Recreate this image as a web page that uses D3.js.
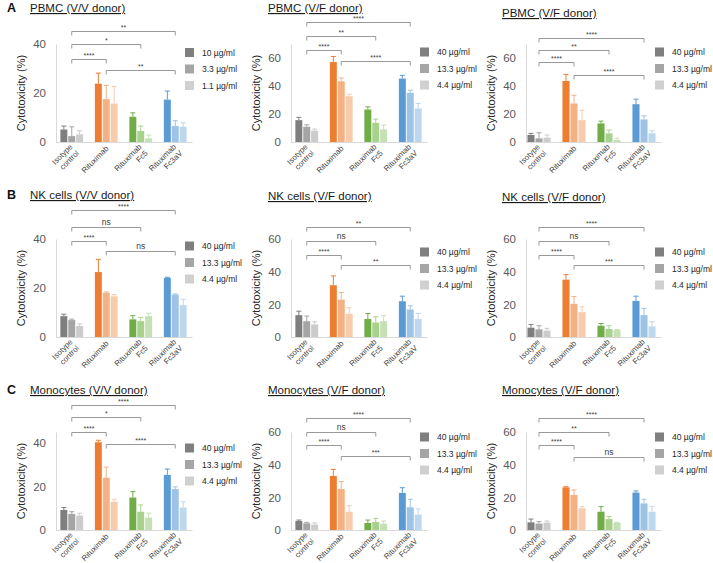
<!DOCTYPE html>
<html><head><meta charset="utf-8">
<script src="https://cdn.jsdelivr.net/npm/d3@7"></script>
<style>
body{margin:0;background:#fff}
svg{display:block;font-family:Arial,"Liberation Sans",sans-serif}
</style>
</head><body><svg id="c" width="713" height="563"></svg>
<script>
// ---------- DATA ----------
const groupLabels = [["Isotype","control"],["Rituximab"],["Rituximab","Fc5"],["Rituximab","Fc3aV"]];
const panelTitles = ["PBMC (V/V donor)","PBMC (V/F donor)","PBMC (V/F donor)",
  "NK cells (V/V donor)","NK cells (V/F donor)","NK cells (V/F donor)",
  "Monocytes (V/V donor)","Monocytes (V/F donor)","Monocytes (V/F donor)"];
const panelLetters = ["A","","","B","","","C","",""];
const legendLabelsLow = ["10 µg/ml","3.3 µg/ml","1.1 µg/ml"];
const legendLabelsHigh = ["40 µg/ml","13.3 µg/ml","4.4 µg/ml"];
const yMaxes = [40,70,70,40,60,60,45,60,60];
const yTickValues = [[0,20,40],[0,20,40,60],[0,20,40,60],[0,20,40],[0,20,40,60],[0,20,40,60],[0,20,40],[0,20,40,60],[0,20,40,60]];
const bracketPairs = [[0,3],[0,2],[0,1],[1,3]];

// values: [group][concentration]  groups: Isotype, Rituximab, Rituximab Fc5, Rituximab Fc3aV
const pbmcVV      = [[5.1,2.4,3.1],[23.8,17.5,15.7],[10.3,4.5,1.5],[17.3,6.5,6.2]];
const pbmcVVErr   = [[1.4,3.8,1.5],[4.3,5.6,7.0],[1.6,2.0,1.3],[3.5,2.2,1.6]];
const pbmcVF1     = [[15.6,10.9,8.1],[57.1,43.4,32.7],[23.2,13.7,9.0],[45.3,35.1,23.9]];
const pbmcVF1Err  = [[2.0,1.4,1.1],[4.0,2.3,1.4],[1.9,2.7,3.1],[2.3,1.9,3.6]];
const pbmcVF2     = [[5.0,2.6,3.1],[43.6,27.5,15.6],[13.3,6.2,1.4],[27.0,16.1,6.2]];
const pbmcVF2Err  = [[1.2,4.0,1.9],[4.7,5.9,7.1],[1.6,2.3,1.4],[3.6,2.6,1.8]];
const nkVV        = [[8.5,6.9,4.5],[26.5,18.0,16.6],[7.2,6.5,8.5],[24.1,17.3,13.0]];
const nkVVErr     = [[0.8,0.4,0.8],[5.2,0.4,0.7],[1.5,1.5,1.2],[0.3,0.3,2.4]];
const nkVF1       = [[13.4,9.7,7.7],[31.7,22.9,14.2],[11.0,8.9,9.7],[21.9,16.9,11.0]];
const nkVF1Err    = [[2.4,3.1,1.6],[5.7,4.3,3.7],[3.4,3.5,3.3],[3.1,2.2,3.4]];
const nkVF2       = [[5.7,4.7,3.9],[35.1,20.3,15.2],[6.9,4.9,4.3],[22.1,13.4,6.5]];
const nkVF2Err    = [[2.0,2.2,1.4],[3.1,4.5,3.3],[1.4,2.0,0.4],[2.9,4.1,2.8]];
const monoVV      = [[9.2,7.4,6.6],[40.3,24.0,13.0],[14.9,8.4,5.7],[25.3,18.8,10.3]];
const monoVVErr   = [[1.1,1.0,1.1],[0.9,4.9,1.1],[2.7,3.1,2.0],[2.7,1.0,2.7]];
const monoVF1     = [[5.5,4.1,3.3],[33.1,25.1,11.2],[4.3,4.9,3.9],[22.7,13.9,9.4]];
const monoVF1Err  = [[0.6,0.6,1.0],[4.0,4.5,3.7],[1.8,2.2,1.6],[3.2,4.9,3.5]];
const monoVF2     = [[4.7,3.9,4.5],[26.1,21.4,13.3],[11.2,6.7,4.3],[22.9,16.3,11.2]];
const monoVF2Err  = [[2.0,1.2,1.0],[0.4,3.1,1.0],[3.1,1.5,0.4],[1.0,2.5,3.1]];

// significance brackets (level in data units), order matches bracketPairs
const bracketLevels = [[45.2,40.0,34.0,29.5],[85.5,75.6,65.9,57.6],[74.2,65.9,57.1,47.6],
  [52.0,44.8,39.0,34.9],[67.2,58.5,50.0,43.9],[67.2,58.5,50.0,43.9],
  [57.4,52.1,45.2,39.4],[68.4,60.2,52.0,45.3],[68.4,60.2,52.0,44.9]];
const bracketLabels = [["**","*","****","**"],["****","**","****","****"],["****","**","****","****"],
  ["****","ns","****","ns"],["**","ns","****","**"],["****","ns","****","***"],
  ["****","*","****","****"],["****","ns","****","***"],["****","**","****","ns"]];

const panelValues = [pbmcVV,pbmcVF1,pbmcVF2,nkVV,nkVF1,nkVF2,monoVV,monoVF1,monoVF2];
const panelErrors = [pbmcVVErr,pbmcVF1Err,pbmcVF2Err,nkVVErr,nkVF1Err,nkVF2Err,monoVVErr,monoVF1Err,monoVF2Err];

// ---------- STYLE / LAYOUT ----------
const groupColors = [["#7f7f7f","#a5a5a5","#cccccc"],["#ed7d31","#f4b183","#f8cbad"],
  ["#70ad47","#a9d18e","#c5e0b4"],["#5b9bd5","#9dc3e6","#bdd7ee"]];
const legendColors = ["#7f7f7f","#a5a5a5","#d0d0d0"];
const colX = [0,235,470];
const bandRange = [[54.5,192.5],[54.5,192.5],[51.5,191.5]];
const rowBase = [142,337,530];
const plotH = 98;
const titleDX = [30,33,32];
const titleY = [[12,12,17],[199,200,201],[394,394,394]];
const legendY = [[52.5,52,52],[246,252,252],[448,437,437]];
const FONT = 'Arial,"Liberation Sans",sans-serif';

const svg = d3.select("#c");

panelTitles.forEach((title,i)=>{
  const row = Math.floor(i/3), col = i%3;
  const ox = colX[col], base = rowBase[row];
  const g = svg.append("g");
  const vals = panelValues[i], errs = panelErrors[i];
  const axX = ox + 56;

  const x = d3.scaleBand().domain(d3.range(groupLabels.length))
    .range([ox+bandRange[col][0], ox+bandRange[col][1]]).paddingInner(0.34).paddingOuter(0.17);
  const xi = d3.scaleBand().domain(d3.range(3)).range([0, x.bandwidth()]).paddingInner(0.12);
  const y = d3.scaleLinear().domain([0, yMaxes[i]]).range([base, base-plotH]);
  const xc = k => x(k) + x.bandwidth()/2;

  // letter + title
  if (panelLetters[i]) g.append("text").attr("x",7).attr("y",titleY[row][col]).text(panelLetters[i])
    .attr("font-family",FONT).attr("font-size",12.5).attr("font-weight","bold").attr("fill","#111");
  g.append("text").attr("x",ox+titleDX[col]).attr("y",titleY[row][col]).text(title)
    .attr("font-family",FONT).attr("font-size",11.5).attr("fill","#1a1a1a")
    .style("text-decoration","underline");

  // y axis
  const ya = g.append("g").attr("transform",`translate(${axX},0)`)
    .call(d3.axisLeft(y).tickValues(yTickValues[i]).tickSize(0).tickSizeOuter(0).tickPadding(10).tickFormat(d3.format("d")));
  ya.attr("font-family",FONT).attr("font-size",11.5);
  ya.select(".domain").attr("stroke","#d9d9d9");
  ya.selectAll(".tick text").attr("fill","#595959");

  // y title
  g.append("text").attr("transform",`translate(${ox+25},${base-plotH/2}) rotate(-90)`)
    .attr("text-anchor","middle").text("Cytotoxicity (%)")
    .attr("font-family",FONT).attr("font-size",11).attr("fill","#262626");

  // baseline
  g.append("line").attr("x1",axX).attr("x2",ox+bandRange[col][1]).attr("y1",base+0.5).attr("y2",base+0.5)
    .attr("stroke","#d9d9d9");

  // bars + error bars
  vals.forEach((grp,gi)=>{
    grp.forEach((v,j)=>{
      const bx = x(gi)+xi(j), bw = xi.bandwidth(), cx = bx+bw/2;
      const c = groupColors[gi][j];
      g.append("rect").attr("x",bx).attr("y",y(v)).attr("width",bw).attr("height",base-y(v)).attr("fill",c);
      const ye = y(v+errs[gi][j]);
      g.append("line").attr("x1",cx).attr("x2",cx).attr("y1",y(v)).attr("y2",ye).attr("stroke",c).attr("stroke-width",1);
      g.append("line").attr("x1",cx-2.5).attr("x2",cx+2.5).attr("y1",ye).attr("y2",ye).attr("stroke",c).attr("stroke-width",1);
    });
  });

  // x labels
  groupLabels.forEach((lines,gi)=>{
    const t = g.append("text").attr("transform",`translate(${xc(gi)+1},${base+5}) rotate(-45)`)
      .attr("text-anchor","end").attr("font-family",FONT).attr("font-size",7.8).attr("fill","#404040");
    lines.forEach((ln,k)=>{
      t.append("tspan").attr("x",0).attr("y",0)
        .attr("dy",(0.35 + (k - (lines.length-1)/4)*1.15)+"em").text(ln);
    });
  });

  // brackets
  bracketPairs.forEach((pr,bi)=>{
    const yy = Math.round(y(bracketLevels[i][bi]))+0.5;
    const x1 = xc(pr[0]), x2 = xc(pr[1]);
    g.append("path").attr("d",`M${x1},${yy+4}V${yy}H${x2}V${yy+4}`)
      .attr("fill","none").attr("stroke","#808080").attr("stroke-width",0.8);
    const lab = bracketLabels[i][bi];
    g.append("text").attr("x",(x1+x2)/2).attr("y",yy-(lab==="ns"?2.5:1.5)).attr("text-anchor","middle")
      .attr("font-family",FONT).attr("font-size",lab==="ns"?8.5:7).attr("fill","#404040").text(lab);
  });

  // legend
  const labs = i===0 ? legendLabelsLow : legendLabelsHigh;
  labs.forEach((lb,k)=>{
    const ly = legendY[row][col] + k*16.5;
    g.append("rect").attr("x",ox+185).attr("y",ly-4.5).attr("width",9).attr("height",9).attr("fill",legendColors[k]);
    g.append("text").attr("x",ox+202).attr("y",ly+3).text(lb)
      .attr("font-family",FONT).attr("font-size",8.5).attr("fill","#262626");
  });
});
</script>
</body></html>
